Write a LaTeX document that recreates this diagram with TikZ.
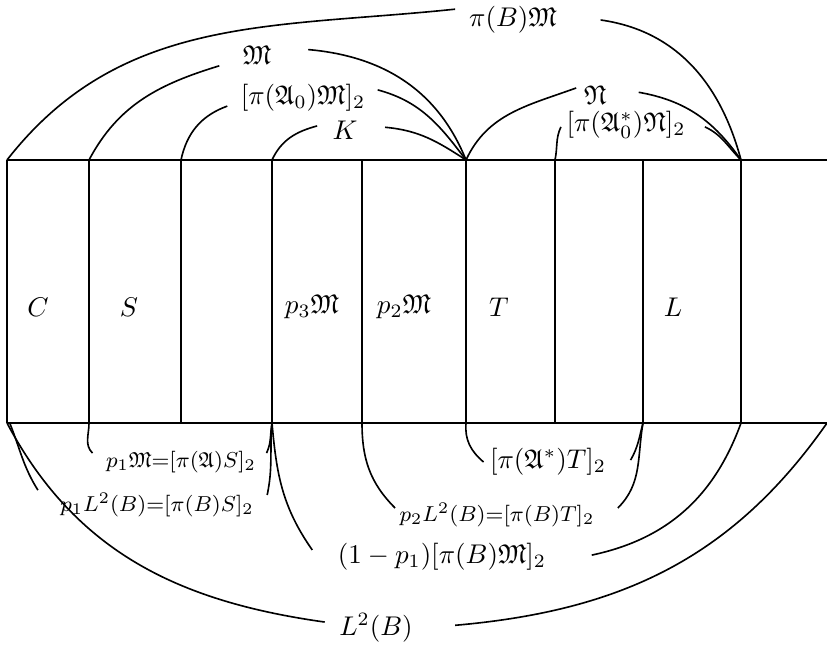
\documentclass[tikz,border=0pt]{standalone}
\usepackage{amsmath,amssymb}
\begin{document}
\begin{tikzpicture}[x=0.013cm,y=0.013cm,
		frame/.style={line width=0.8pt},
		arc/.style={line width=0.6pt},
		lbl/.style={inner sep=0pt},
		small/.style={inner sep=0pt, font=\footnotesize}]
		\useasboundingbox (0,0) rectangle (827,648);

		% column edges
		\coordinate (t1) at (7,488);   \coordinate (b1) at (7,225);
		\coordinate (t2) at (89,488);  \coordinate (b2) at (89,225);
		\coordinate (t3) at (181,488); \coordinate (b3) at (181,225);
		\coordinate (t4) at (272,488); \coordinate (b4) at (272,225);
		\coordinate (t5) at (362,488); \coordinate (b5) at (362,225);
		\coordinate (t6) at (466,488); \coordinate (b6) at (466,225);
		\coordinate (t7) at (555,488); \coordinate (b7) at (555,225);
		\coordinate (t8) at (643,488); \coordinate (b8) at (643,225);
		\coordinate (t9) at (741,488); \coordinate (b9) at (741,225);
		\coordinate (rt) at (827,488); \coordinate (rb) at (827,225);

		\draw[frame] (t1) -- (rt);
		\draw[frame] (b1) -- (rb);
		\draw[frame] (t1) -- (b1);
		\draw[frame] (t2) -- (b2);
		\draw[frame] (t3) -- (b3);
		\draw[frame] (t4) -- (b4);
		\draw[frame] (t5) -- (b5);
		\draw[frame] (t6) -- (b6);
		\draw[frame] (t7) -- (b7);
		\draw[frame] (t8) -- (b8);
		\draw[frame] (t9) -- (b9);

		% cells
		\node (C) at (38,341) {$C$};
		\node (S) at (129,341) {$S$};
		\node (p3M) at (312,341) {$p_3\mathfrak{M}$};
		\node (p2M) at (404,341) {$p_2\mathfrak{M}$};
		\node (T) at (499,341) {$T$};
		\node (L) at (673,341) {$L$};

		% labels above
		\node[lbl] (piBM) at (513,628) {$\pi(B)\mathfrak{M}$};
		\node[lbl] (frM) at (257,593) {$\mathfrak{M}$};
		\node[lbl] (piAM) at (303,550) {$[\pi(\mathfrak{A}_0)\mathfrak{M}]_2$};
		\node[lbl] (K) at (345,518) {$K$};
		\node[lbl] (frN) at (595,553) {$\mathfrak{N}$};
		\node[lbl] (piAN) at (626,523) {$[\pi(\mathfrak{A}_0^*)\mathfrak{N}]_2$};

		% labels below
		\node[small] (p1M) at (181,186) {$p_1\mathfrak{M}{=}[\pi(\mathfrak{A})S]_2$};
		\node[small] (p1L) at (157,143) {$p_1L^2(B){=}[\pi(B)S]_2$};
		\node[lbl] (piAT) at (548,186) {$[\pi(\mathfrak{A}^*)T]_2$};
		\node[small] (p2L) at (497,133) {$p_2L^2(B){=}[\pi(B)T]_2$};
		\node[lbl] (onep) at (442,91) {$(1-p_1)[\pi(B)\mathfrak{M}]_2$};
		\node[lbl] (L2B) at (376,20) {$L^2(B)$};

		% arcs above
		\draw[arc] (t1) to[out=52,in=186] ([xshift=-5pt,yshift=4pt]piBM.west);
		\draw[arc] ([xshift=16pt]piBM.east) to[out=-8,in=105] (t9);
		\draw[arc] (t2) to[out=62,in=197] ([xshift=-8.5pt,yshift=-4pt]frM.west);
		\draw[arc] ([xshift=13.5pt,yshift=2pt]frM.east) to[out=-5,in=112] (t6);
		\draw[arc] (t3) to[out=78,in=200] ([xshift=-4.8pt,yshift=-3pt]piAM.west);
		\draw[arc] ([xshift=4.4pt,yshift=3pt]piAM.east) to[out=-15,in=127] (t6);
		\draw[arc] (t4) to[out=65,in=195] ([xshift=-5.5pt,yshift=1.5pt]K.west);
		\draw[arc] ([xshift=10pt,yshift=1pt]K.east) to[out=-5,in=147] (t6);
		\draw[arc] (t6) to[out=65,in=200] ([xshift=-2.6pt,yshift=2.6pt]frN.west);
		\draw[arc] ([xshift=11.8pt,yshift=1pt]frN.east) to[out=-10,in=125] (t9);
		\draw[arc] (t7) to[out=78,in=245] ([xshift=-1.9pt,yshift=-0.7pt]piAN.west);
		\draw[arc] ([xshift=7pt,yshift=-0.7pt]piAN.east) to[out=-25,in=135] (t9);

		% arcs below
		\draw[arc] (b1) to[out=-62,in=172] ([xshift=-5.2pt,yshift=2.2pt]L2B.west);
		\draw[arc] ([xshift=15.5pt,yshift=1pt]L2B.east) to[out=5,in=-125] (rb);
		\draw[arc] ([xshift=1pt]b1) to[out=-68,in=122] ([xshift=-8.1pt,yshift=5.5pt]p1L.west);
		\draw[arc] ([xshift=4.8pt,yshift=3.7pt]p1L.east) to[out=78,in=-95] (b4);
		\draw[arc] (b2) to[out=-90,in=135] ([xshift=-4.8pt,yshift=3.3pt]p1M.west);
		\draw[arc] ([xshift=3.7pt,yshift=3.3pt]p1M.east) to[out=65,in=-100] (b4);
		\draw[arc] (b4) to[out=-85,in=125] ([xshift=-9.3pt,yshift=2.6pt]onep.west);
		\draw[arc] ([xshift=16.7pt,yshift=0.7pt]onep.east) to[out=12,in=-110] (b9);
		\draw[arc] (b6) to[out=-95,in=140] ([xshift=-2.2pt]piAT.west);
		\draw[arc] ([xshift=8.9pt,yshift=0.7pt]piAT.east) to[out=60,in=-105] (b8);
		\draw[arc] (b5) to[out=-90,in=135] ([xshift=-1.5pt,yshift=2.6pt]p2L.west);
		\draw[arc] ([xshift=8.5pt,yshift=2.6pt]p2L.east) to[out=45,in=-100] (b8);
	\end{tikzpicture}
\end{document}
